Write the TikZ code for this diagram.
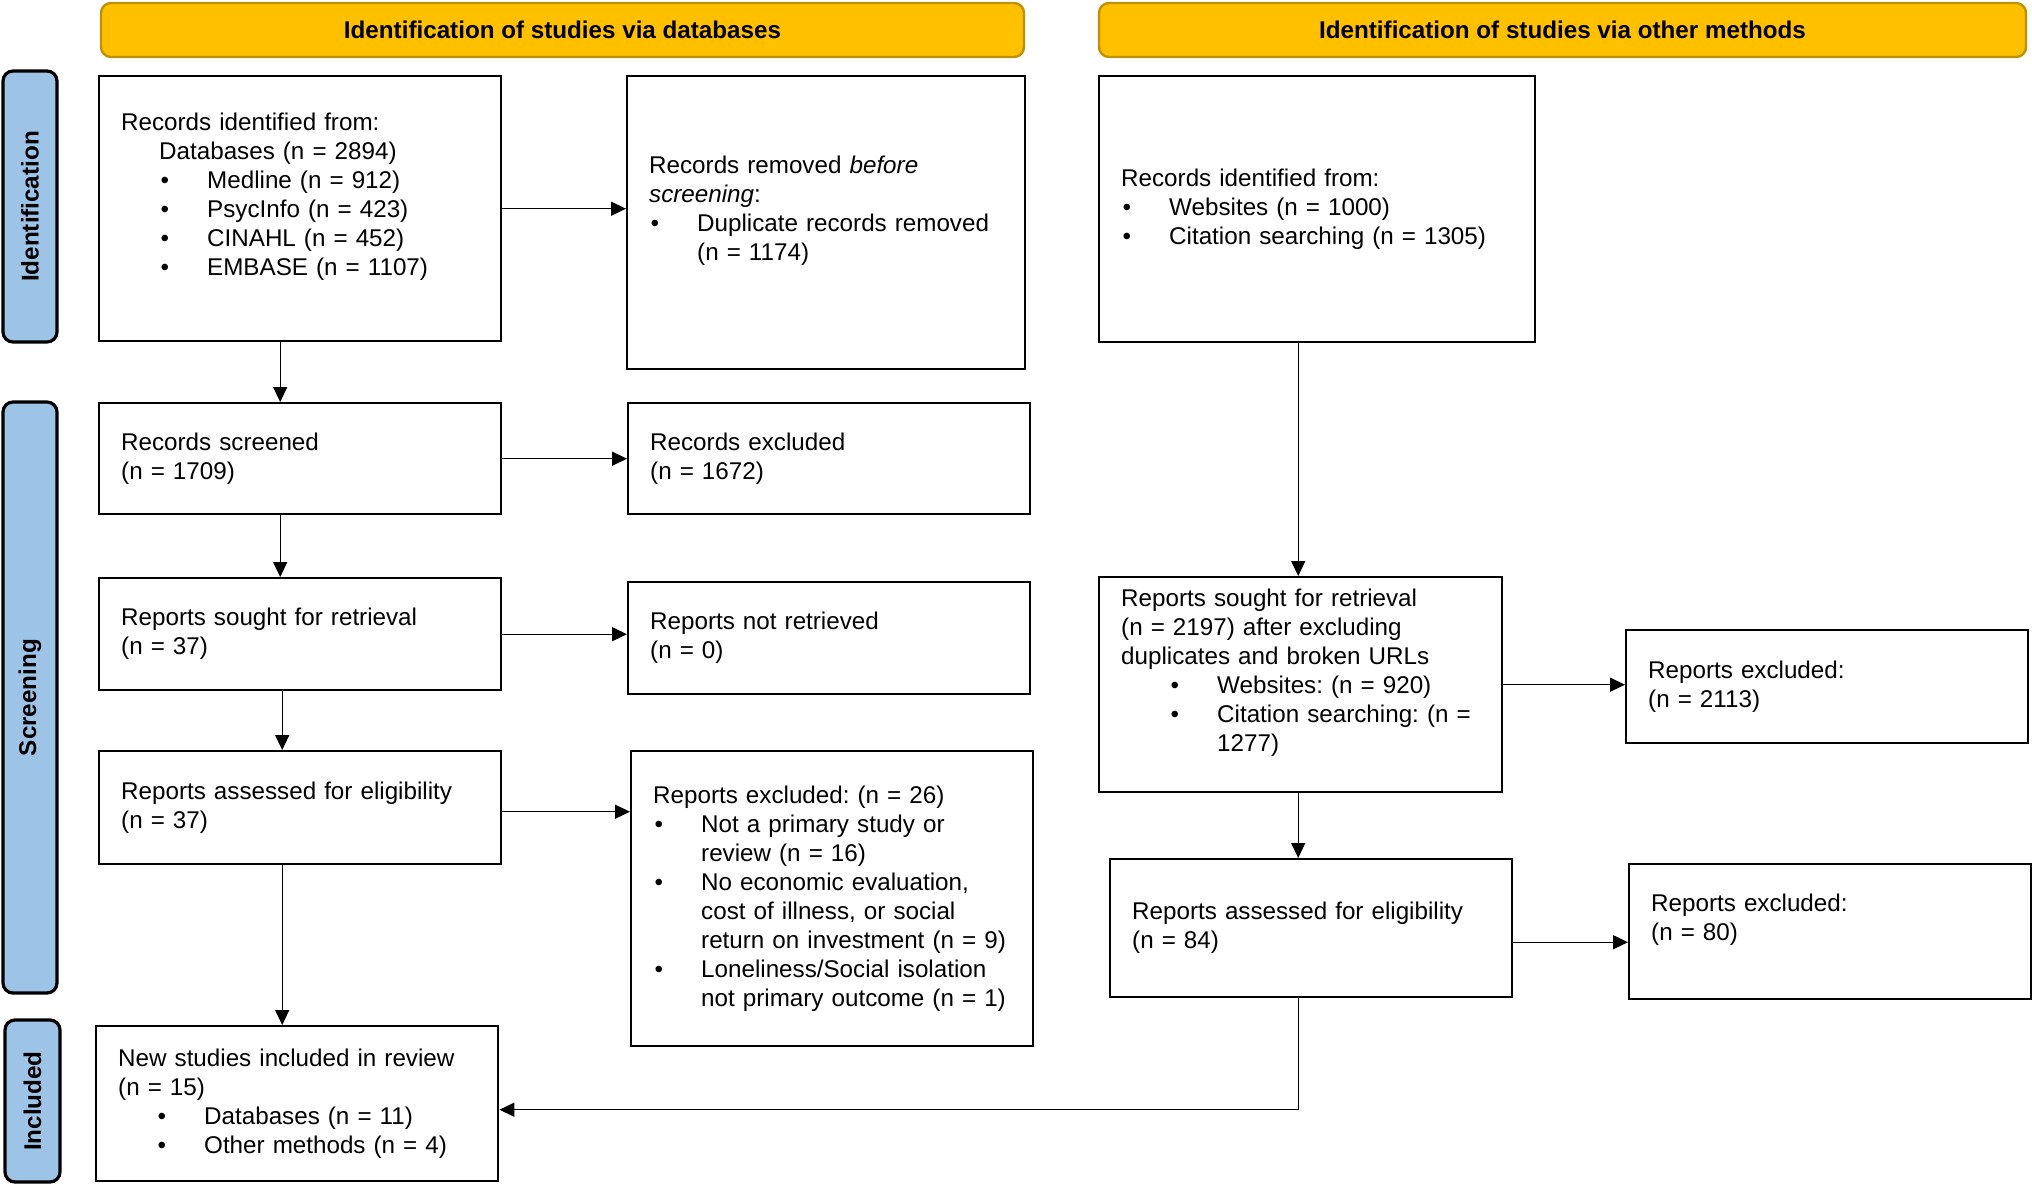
\documentclass[tikz,border=0pt]{standalone}
\usepackage{fontspec}
\setmainfont{Liberation Sans}
\usetikzlibrary{arrows.meta}
\setlength{\parindent}{0pt}
\frenchspacing

\definecolor{headgold}{RGB}{255,192,0}
\definecolor{headedge}{RGB}{191,144,0}
\definecolor{barblue}{RGB}{157,195,230}

% bullet line with hanging indent
\newcommand{\bul}[2][24pt]{\par\hangindent=#1\hangafter=0\noindent\llap{\textbullet\hspace{19pt}}#2\par}

\tikzset{every picture/.style={line width=0.65pt}}
\tikzset{
  box/.style={draw, line width=1.2pt, anchor=north west, inner xsep=11pt, inner ysep=0pt,
    align=left, font=\fontsize{12.1pt}{14.5pt}\selectfont},
  head/.style={draw=headedge, fill=headgold, line width=1.2pt, rounded corners=5pt,
    minimum height=27pt, font=\fontsize{12.1pt}{14.5pt}\selectfont\bfseries},
  bar/.style={draw=black, fill=barblue, line width=1.6pt, rounded corners=5pt, rotate=90,
    font=\fontsize{12.1pt}{14.5pt}\selectfont\bfseries},
  arr/.style={-{Triangle[length=7.5pt,width=7pt]}, line width=0.65pt}
}

\begin{document}
\begin{tikzpicture}[x=0.5pt,y=0.5pt,yscale=-1]
\useasboundingbox (0,0) rectangle (2032,1185);

% Headers
\node[head, minimum width=461.5pt] (hdb) at (562.5,30) {Identification of studies via databases};
\node[head, minimum width=463.5pt] (hdo) at (1562.5,30) {Identification of studies via other methods};

% Side bars
\node[bar, minimum width=135.5pt, minimum height=27pt] (barid) at (30,206.5) {Identification};
\node[bar, minimum width=295.5pt, minimum height=27pt] (barscr) at (30,697.5) {Screening};
\node[bar, minimum width=81pt, minimum height=27.5pt] (barinc) at (32.5,1101) {Included};

% Databases column
\node[box, text width=179pt, minimum height=132.5pt] (recid) at (98,75) {Records identified from:
  \par\noindent\hspace*{19pt}Databases (n = 2894)
  \bul[43pt]{Medline (n = 912)}
  \bul[43pt]{PsycInfo (n = 423)}
  \bul[43pt]{CINAHL (n = 452)}
  \bul[43pt]{EMBASE (n = 1107)}
  \mbox{}\par};
\node[box, text width=177pt, minimum height=146.5pt] (recrem) at (626,75) {Records removed \textit{before}\\
  \textit{screening}:
  \bul{Duplicate records removed\newline(n = 1174)}
  \mbox{}\par};
\node[box, text width=179pt, minimum height=55.5pt] (recscr) at (98,402) {Records screened\\(n = 1709)};
\node[box, text width=179pt, minimum height=55.5pt] (recexc) at (627,402) {Records excluded\\(n = 1672)};
\node[box, text width=179pt, minimum height=56pt] (repsgt) at (98,577) {Reports sought for retrieval\\(n = 37)};
\node[box, text width=179pt, minimum height=56pt] (repnot) at (627,581) {Reports not retrieved\\(n = 0)};
\node[box, text width=179pt, minimum height=56.5pt] (repass) at (98,750) {Reports assessed for eligibility\\(n = 37)};
\node[box, text width=179pt, minimum height=147.5pt] (repexc) at (630,750) {Reports excluded: (n = 26)
  \bul{Not a primary study or\newline review (n = 16)}
  \bul{No economic evaluation,\newline cost of illness, or social\newline return on investment (n = 9)}
  \bul{Loneliness/Social isolation\newline not primary outcome (n = 1)}};
\node[box, text width=179pt, minimum height=77.5pt] (incl) at (95,1025) {New studies included in review\\(n = 15)
  \bul[43pt]{Databases (n = 11)}
  \bul[43pt]{Other methods (n = 4)}};

% Other methods column
\node[box, text width=196pt, minimum height=133pt] (othid) at (1098,75) {Records identified from:
  \bul{Websites (n = 1000)}
  \bul{Citation searching (n = 1305)}};
\node[box, text width=179.5pt, minimum height=107.5pt] (othsgt) at (1098,576) {Reports sought for retrieval\\
  (n = 2197) after excluding\\duplicates and broken URLs
  \bul[48pt]{Websites: (n = 920)}
  \bul[48pt]{Citation searching: (n =\newline 1277)}
  \mbox{}\par};
\node[box, text width=179pt, minimum height=56.5pt] (othexc) at (1625,629) {Reports excluded:\\(n = 2113)};
\node[box, text width=179pt, minimum height=69pt] (othass) at (1109,858) {Reports assessed for eligibility\\(n = 84)};
\node[box, text width=179pt, minimum height=67.5pt] (othexcb) at (1628,863) {Reports excluded:\\(n = 80)\par\mbox{}\par};

% Connectors
\draw[arr] ([xshift=-10pt]recid.south) -- ([xshift=-10pt]recscr.north);
\draw[arr] ([xshift=-10pt]recscr.south) -- ([xshift=-10pt]repsgt.north);
\draw[arr] ([xshift=-9pt]repsgt.south) -- ([xshift=-9pt]repass.north);
\coordinate (gi) at ([xshift=-9pt]repass.south);
\draw[arr] (gi) -- (gi |- incl.north);
\draw[arr] (recid.east) -- (recid.east -| recrem.west);
\draw[arr] (recscr.east) -- (recscr.east -| recexc.west);
\draw[arr] (repsgt.east) -- (repsgt.east -| repnot.west);
\coordinate (gh) at ([yshift=2pt]repass.east);
\draw[arr] (gh) -- (gh -| repexc.west);

\draw[arr] ([xshift=-9.5pt]othid.south) -- ([xshift=-1.25pt]othsgt.north);
\draw[arr] ([xshift=-1.25pt]othsgt.south) -- ([xshift=-6.5pt]othass.north);
\draw[arr] (othsgt.east) -- (othsgt.east -| othexc.west);
\coordinate (mn) at ([yshift=7pt]othass.east);
\draw[arr] (mn) -- (mn -| othexcb.west);
\draw[arr] ([xshift=-6.5pt]othass.south) |- ([yshift=3pt]incl.east);

\end{tikzpicture}
\end{document}
